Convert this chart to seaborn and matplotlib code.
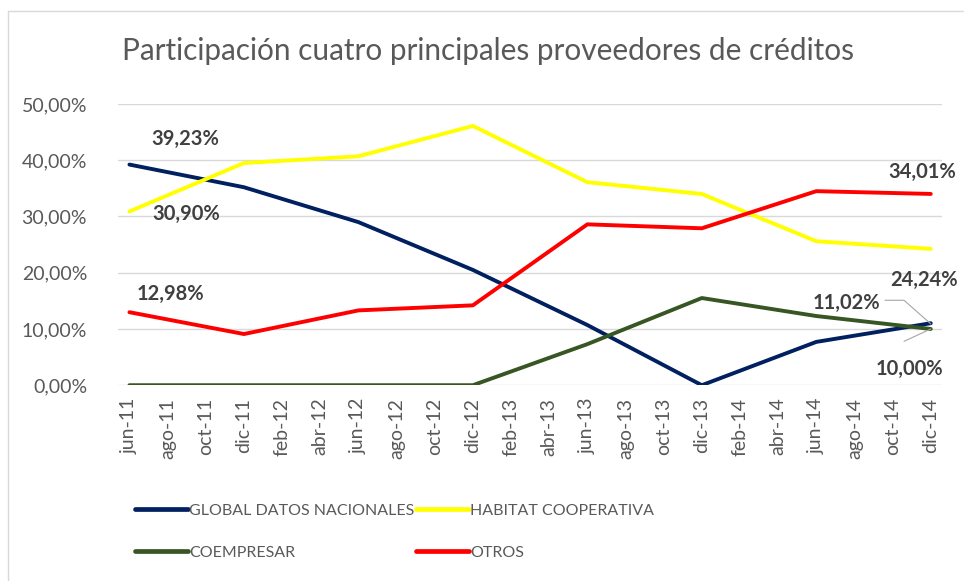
import numpy as np
import pandas as pd
import matplotlib
matplotlib.use('Agg')
import matplotlib.pyplot as plt
import seaborn as sns
from matplotlib.lines import Line2D

sns.set_style('white')
plt.rcParams['font.family'] = ['Lato', 'DejaVu Sans']

# eje x: meses (cada 2 meses)
meses = ['jun-11', 'ago-11', 'oct-11', 'dic-11', 'feb-12', 'abr-12', 'jun-12', 'ago-12',
         'oct-12', 'dic-12', 'feb-13', 'abr-13', 'jun-13', 'ago-13', 'oct-13', 'dic-13',
         'feb-14', 'abr-14', 'jun-14', 'ago-14', 'oct-14', 'dic-14']

# datos semestrales
periodos = ['jun-11', 'dic-11', 'jun-12', 'dic-12', 'jun-13', 'dic-13', 'jun-14', 'dic-14']
global_datos = [39.23, 35.2, 29.0, 20.5, 10.7, 0.0, 7.7, 11.02]
habitat = [30.90, 39.5, 40.7, 46.1, 36.1, 34.0, 25.6, 24.24]
coempresar = [0.0, 0.0, 0.0, 0.0, 7.3, 15.5, 12.3, 10.00]
otros = [12.98, 9.1, 13.3, 14.2, 28.6, 27.9, 34.5, 34.01]

series = ['GLOBAL DATOS NACIONALES', 'HABITAT COOPERATIVA', 'COEMPRESAR', 'OTROS']
colores = ['#002060', '#FFFF00', '#375623', '#FF0000']

df = pd.DataFrame({
    'periodo': periodos * 4,
    'serie': np.repeat(series, len(periodos)),
    'valor': global_datos + habitat + coempresar + otros,
})
df['pos'] = df['periodo'].map({m: i for i, m in enumerate(meses)})

fig = plt.figure(figsize=(9.64, 5.81), dpi=100)
ax = fig.add_axes([0.122, 0.337, 0.855, 0.484])

sns.lineplot(data=df, x='pos', y='valor', hue='serie', hue_order=series,
             palette=colores, linewidth=2.8, legend=False, ax=ax)

gris = '#595959'
ax.set_xlim(-0.31, 21.29)
ax.set_ylim(0, 50)
ax.set_yticks([0, 10, 20, 30, 40, 50])
ax.set_yticklabels([f'{v:.2f}%'.replace('.', ',') for v in [0, 10, 20, 30, 40, 50]],
                   color=gris, fontsize=14)
ax.set_xticks(range(len(meses)))
ax.set_xticklabels(meses, rotation=90, color=gris, fontsize=14)
ax.tick_params(axis='y', length=0, pad=22)
ax.tick_params(axis='x', length=0, pad=9)
ax.set_xlabel('')
ax.set_ylabel('')
ax.yaxis.grid(True, color='#D9D9D9', linewidth=1)
ax.set_axisbelow(True)
for s in ax.spines.values():
    s.set_visible(False)

fig.text(0.127, 0.896, 'Participación cuatro principales proveedores de créditos',
         fontsize=21.4, color=gris)

# etiquetas de datos
etq = dict(fontsize=14.5, fontweight='bold', color='#404040')
ax.text(0.58, 42.8, '39,23%', **etq)
ax.text(0.6, 29.4, '30,90%', **etq)
ax.text(0.18, 15.1, '12,98%', **etq)
ax.text(19.9, 36.9, '34,01%', **etq)
ax.text(19.95, 17.7, '24,24%', **etq)
ax.text(17.9, 13.5, '11,02%', **etq)
ax.text(19.55, 1.9, '10,00%', **etq)
ax.plot([19.8, 20.3, 21.0], [15.1, 15.1, 10.9], color='#A6A6A6', linewidth=0.8)
ax.plot([21.0, 20.3], [10.0, 7.8], color='#A6A6A6', linewidth=0.8)

# leyenda en filas (matplotlib llena por columnas)
orden = [0, 2, 1, 3]
handles = [Line2D([], [], color=colores[i], linewidth=3.4) for i in orden]
fig.legend(handles, [series[i] for i in orden], loc='upper left',
           bbox_to_anchor=(0.125, 0.158), ncol=2, frameon=False,
           fontsize=11.5, labelcolor=gris, handlelength=3.3, handletextpad=0.1,
           columnspacing=0.1, labelspacing=1.75)

# borde del grafico
fig.add_artist(Line2D([0.0083, 0.0083], [0.0, 0.981], color='#D9D9D9', linewidth=1))
fig.add_artist(Line2D([0.0083, 1.0], [0.981, 0.981], color='#D9D9D9', linewidth=1))

fig.savefig('out.png', dpi=100)
